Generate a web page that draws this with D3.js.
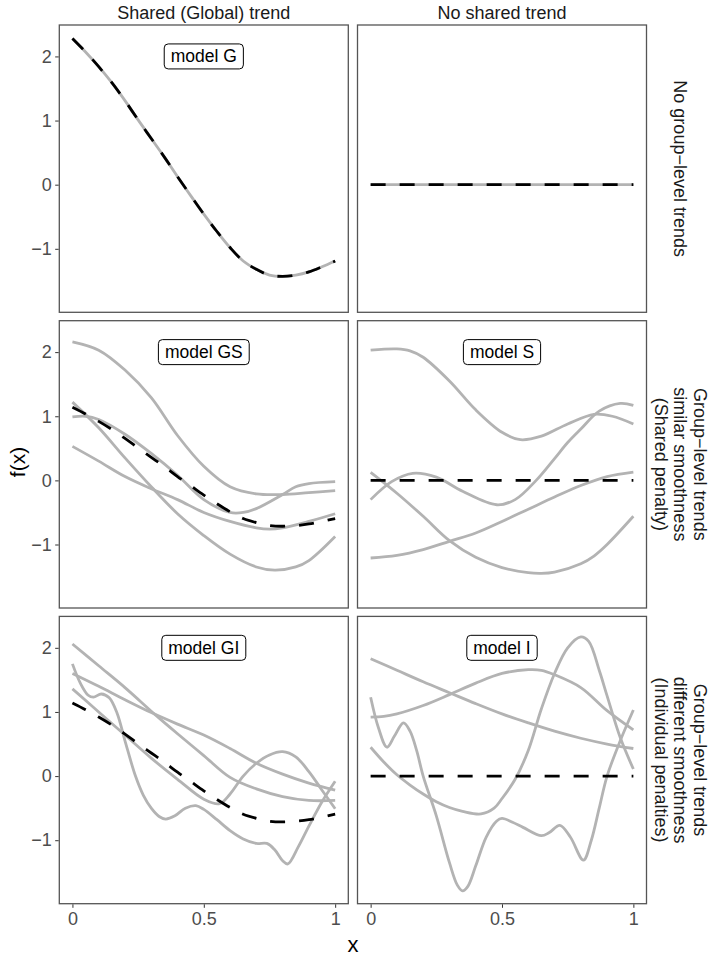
<!DOCTYPE html>
<html>
<head>
<meta charset="utf-8">
<script src="https://cdn.jsdelivr.net/npm/d3@7"></script>
<style>
  body { margin: 0; background: #fff; }
  text { font-family: "Liberation Sans", Arial, sans-serif; }
</style>
</head>
<body>
<script>
// labels
var colLabels = ["Shared (Global) trend", "No shared trend"];
var rowLabels = [
  ["No group\u2212level trends"],
  ["Group\u2212level trends", "similar smoothness", "(Shared penalty)"],
  ["Group\u2212level trends", "different smoothness", "(Individual penalties)"]
];
// model labels by [row][col]
var modelLabels = [["model G", ""], ["model GS", "model S"], ["model GI", "model I"]];
var xTicks = [0, 0.5, 1];
var xTickLabels = ["0", "0.5", "1"];
var yTicks = [-1, 0, 1, 2];
var yTickLabels = ["\u22121", "0", "1", "2"];

// global trend (model G)
var xGrid = [0, 0.05, 0.1, 0.15, 0.2, 0.25, 0.3, 0.35, 0.4, 0.45, 0.5, 0.55, 0.6, 0.65, 0.7, 0.75, 0.8, 0.85, 0.9, 0.95, 1];
var globalG = [2.28, 2.07, 1.84, 1.59, 1.31, 1.01, 0.72, 0.43, 0.125, -0.17, -0.46, -0.73, -0.98, -1.19, -1.32, -1.41, -1.43, -1.41, -1.36, -1.28, -1.19];
// global trend in models GS and GI
var globalGS = [1.14, 1.035, 0.92, 0.795, 0.655, 0.505, 0.36, 0.215, 0.06, -0.085, -0.23, -0.365, -0.49, -0.595, -0.66, -0.705, -0.715, -0.705, -0.68, -0.64, -0.595];
var zeroTrend = [[0, 0], [1, 0]];

// model GS group curves
var gsA = [[0,2.16],[0.1,2.03],[0.2,1.72],[0.3,1.29],[0.4,0.70],[0.5,0.22],[0.6,-0.1],[0.7,-0.21],[0.8,-0.22],[0.9,-0.19],[1,-0.16]];
var gsB = [[0,0.99],[0.05,1.0],[0.1,0.95],[0.2,0.72],[0.3,0.42],[0.4,0.08],[0.5,-0.3],[0.6,-0.5],[0.65,-0.5],[0.7,-0.44],[0.8,-0.22],[0.85,-0.1],[0.9,-0.05],[1,-0.02]];
var gsC = [[0,1.22],[0.1,0.82],[0.2,0.35],[0.3,-0.1],[0.4,-0.52],[0.5,-0.86],[0.6,-1.15],[0.7,-1.35],[0.77,-1.4],[0.85,-1.35],[0.9,-1.25],[1,-0.875]];
var gsD = [[0,0.53],[0.1,0.3],[0.2,0.06],[0.3,-0.13],[0.4,-0.3],[0.5,-0.5],[0.6,-0.64],[0.7,-0.74],[0.75,-0.76],[0.8,-0.74],[0.9,-0.64],[1,-0.52]];

// model S group curves
var sA = [[0,2.03],[0.1,2.05],[0.15,2.02],[0.2,1.92],[0.3,1.55],[0.4,1.1],[0.5,0.75],[0.57,0.635],[0.65,0.69],[0.75,0.88],[0.85,1.03],[0.92,1.0],[1,0.88]];
var sB = [[0,-0.3],[0.08,-0.02],[0.16,0.11],[0.25,0.05],[0.35,-0.17],[0.48,-0.38],[0.55,-0.3],[0.63,0.0],[0.7,0.34],[0.75,0.59],[0.8,0.8],[0.87,1.08],[0.95,1.2],[1,1.17]];
var sC = [[0,0.125],[0.1,-0.2],[0.2,-0.56],[0.3,-0.94],[0.4,-1.2],[0.5,-1.36],[0.6,-1.44],[0.65,-1.45],[0.7,-1.43],[0.8,-1.3],[0.85,-1.18],[0.9,-1.0],[1,-0.56]];
var sD = [[0,-1.21],[0.1,-1.17],[0.2,-1.08],[0.3,-0.95],[0.4,-0.82],[0.5,-0.64],[0.6,-0.45],[0.7,-0.26],[0.8,-0.08],[0.9,0.06],[1,0.13]];

// model GI group curves
var giA = [[0,2.06],[0.1,1.72],[0.2,1.38],[0.317,0.95],[0.4,0.66],[0.5,0.32],[0.6,-0.02],[0.7,-0.2],[0.8,-0.32],[0.9,-0.38],[1,-0.38]];
var giB = [[0,1.6],[0.1,1.4],[0.2,1.19],[0.3,0.99],[0.4,0.81],[0.5,0.64],[0.6,0.43],[0.7,0.2],[0.8,0.03],[0.9,-0.11],[1,-0.22]];
var giC = [[0,1.75],[0.03,1.45],[0.06,1.26],[0.08,1.23],[0.11,1.28],[0.14,1.22],[0.17,0.98],[0.2,0.55],[0.24,0.0],[0.27,-0.3],[0.3,-0.5],[0.33,-0.63],[0.355,-0.67],[0.39,-0.62],[0.43,-0.5],[0.47,-0.46],[0.5,-0.52],[0.55,-0.68],[0.6,-0.85],[0.65,-0.98],[0.7,-1.05],[0.74,-1.05],[0.77,-1.15],[0.8,-1.32],[0.82,-1.37],[0.86,-1.1],[0.9,-0.78],[0.95,-0.4],[1,-0.08]];
var giD = [[0,1.36],[0.1,1.0],[0.2,0.64],[0.3,0.28],[0.4,-0.05],[0.5,-0.36],[0.56,-0.43],[0.6,-0.28],[0.65,0.0],[0.7,0.2],[0.75,0.33],[0.8,0.38],[0.85,0.3],[0.9,0.07],[0.95,-0.22],[1,-0.51]];

// model I group curves
var iA = [[0,1.83],[0.1,1.65],[0.2,1.47],[0.3,1.3],[0.4,1.13],[0.5,0.97],[0.6,0.83],[0.7,0.7],[0.8,0.59],[0.9,0.5],[1,0.43]];
var iB = [[0,0.92],[0.05,0.93],[0.1,0.97],[0.2,1.1],[0.3,1.27],[0.4,1.45],[0.5,1.6],[0.6,1.66],[0.65,1.65],[0.7,1.58],[0.8,1.38],[0.9,1.02],[1,0.72]];
var iC = [[0,1.23],[0.03,0.75],[0.062,0.45],[0.09,0.62],[0.125,0.83],[0.15,0.7],[0.175,0.4],[0.2,0.0],[0.25,-0.62],[0.3,-1.35],[0.33,-1.7],[0.35,-1.79],[0.37,-1.72],[0.4,-1.4],[0.44,-0.95],[0.48,-0.7],[0.5,-0.66],[0.54,-0.72],[0.58,-0.8],[0.65,-0.93],[0.68,-0.88],[0.72,-0.77],[0.76,-0.95],[0.81,-1.31],[0.84,-1.0],[0.87,-0.5],[0.9,0.0],[0.95,0.55],[1,1.03]];
var iD = [[0,0.45],[0.05,0.22],[0.1,0.02],[0.15,-0.14],[0.2,-0.28],[0.25,-0.4],[0.3,-0.49],[0.35,-0.55],[0.42,-0.59],[0.47,-0.5],[0.5,-0.35],[0.55,-0.05],[0.6,0.4],[0.65,1.05],[0.7,1.6],[0.75,2.0],[0.8,2.17],[0.83,2.1],[0.87,1.65],[0.9,1.25],[0.95,0.6],[1,0.11]];

function zipGrid(vals) {
  return vals.map(function(v, i) { return [xGrid[i], v]; });
}

// panels: [row][col] -> group curves and the dashed trend
var panels = [
  [{ groups: [zipGrid(globalG)], trend: zipGrid(globalG) },
   { groups: [zeroTrend], trend: zeroTrend }],
  [{ groups: [gsA, gsB, gsC, gsD], trend: zipGrid(globalGS) },
   { groups: [sA, sB, sC, sD], trend: zeroTrend }],
  [{ groups: [giA, giB, giC, giD], trend: zipGrid(globalGS) },
   { groups: [iA, iB, iC, iD], trend: zeroTrend }]
];

var width = 714, height = 959;
var panelW = 289, panelH = 287.3;
var colX = [59.3, 357.5];
var rowY = [25, 320.7, 616.4];

var svg = d3.select("body").append("svg")
  .attr("width", width)
  .attr("height", height);

var xScales = colX.map(function(x0) {
  return d3.scaleLinear().domain([-0.05, 1.05]).range([x0, x0 + panelW]);
});
var yScales = rowY.map(function(y0) {
  return d3.scaleLinear().domain([-1.99, 2.49]).range([y0 + panelH, y0]);
});

panels.forEach(function(row, r) {
  row.forEach(function(p, c) {
    var x = xScales[c], y = yScales[r];
    var g = svg.append("g");

    var line = d3.line()
      .x(function(d) { return x(d[0]); })
      .y(function(d) { return y(d[1]); })
      .curve(d3.curveCatmullRom.alpha(0.5));

    g.selectAll("path.group")
      .data(p.groups)
      .enter()
      .append("path")
      .attr("class", "group")
      .attr("fill", "none")
      .attr("stroke", "#b3b3b3")
      .attr("stroke-width", 2.8)
      .attr("d", line);

    g.append("path")
      .datum(p.trend)
      .attr("fill", "none")
      .attr("stroke", "#000")
      .attr("stroke-width", 2.8)
      .attr("stroke-dasharray", "15,14")
      .attr("d", line);

    // model label
    if (modelLabels[r][c]) {
      var lab = g.append("g");
      var t = lab.append("text")
        .attr("x", x(0.5))
        .attr("y", y(2))
        .attr("text-anchor", "middle")
        .attr("dominant-baseline", "central")
        .style("font-size", "17.5px")
        .style("fill", "#000")
        .text(modelLabels[r][c]);
      var bb = t.node().getBBox();
      lab.insert("rect", "text")
        .attr("x", bb.x - 6.5)
        .attr("y", y(2) - 12.5)
        .attr("width", bb.width + 13)
        .attr("height", 25)
        .attr("rx", 4)
        .attr("fill", "#fff")
        .attr("stroke", "#000")
        .attr("stroke-width", 1);
    }

    // panel border
    g.append("rect")
      .attr("x", colX[c])
      .attr("y", rowY[r])
      .attr("width", panelW)
      .attr("height", panelH)
      .attr("fill", "none")
      .attr("stroke", "#555")
      .attr("stroke-width", 1.3);

    if (c === 0) {
      var yAxis = d3.axisLeft(y)
        .tickValues(yTicks)
        .tickSize(3.5)
        .tickPadding(3.5)
        .tickFormat(function(d, i) { return yTickLabels[i]; });
      var ya = g.append("g")
        .attr("transform", "translate(" + (colX[c] - 0.6) + ",0)")
        .call(yAxis);
      ya.select(".domain").remove();
      ya.selectAll("line").attr("stroke", "#333");
      ya.selectAll("text")
        .style("font-size", "18px")
        .style("font-family", "'Liberation Sans', Arial, sans-serif")
        .attr("fill", "#4d4d4d");
    }
    if (r === 2) {
      var xAxis = d3.axisBottom(x)
        .tickValues(xTicks)
        .tickSize(3.5)
        .tickPadding(4)
        .tickFormat(function(d, i) { return xTickLabels[i]; });
      var xa = g.append("g")
        .attr("transform", "translate(0," + (rowY[r] + panelH + 0.6) + ")")
        .call(xAxis);
      xa.select(".domain").remove();
      xa.selectAll("line").attr("stroke", "#333");
      xa.selectAll("text")
        .style("font-size", "18px")
        .style("font-family", "'Liberation Sans', Arial, sans-serif")
        .attr("fill", "#4d4d4d");
    }
  });
});

// column strips
colLabels.forEach(function(lbl, c) {
  svg.append("text")
    .attr("x", colX[c] + panelW / 2)
    .attr("y", 13)
    .attr("text-anchor", "middle")
    .attr("dominant-baseline", "central")
    .style("font-size", "18px")
    .style("fill", "#1a1a1a")
    .text(lbl);
});

// row strips
rowLabels.forEach(function(lines, r) {
  var cy = rowY[r] + panelH / 2;
  var t = svg.append("text")
    .attr("transform", "translate(680," + cy + ") rotate(90)")
    .attr("text-anchor", "middle")
    .style("font-size", "18px")
    .style("fill", "#1a1a1a");
  lines.forEach(function(s, i) {
    t.append("tspan")
      .attr("x", 0)
      .attr("y", (i - (lines.length - 1) / 2) * 19.5)
      .attr("dominant-baseline", "central")
      .text(s);
  });
});

// axis titles
svg.append("text")
  .attr("transform", "translate(17,462) rotate(-90)")
  .attr("text-anchor", "middle")
  .attr("dominant-baseline", "central")
  .style("font-size", "21px")
  .style("fill", "#000")
  .text("f(x)");

svg.append("text")
  .attr("x", colX[0] + (colX[1] + panelW - colX[0]) / 2)
  .attr("y", 944)
  .attr("text-anchor", "middle")
  .attr("dominant-baseline", "central")
  .style("font-size", "22px")
  .style("fill", "#000")
  .text("x");
</script>
</body>
</html>
